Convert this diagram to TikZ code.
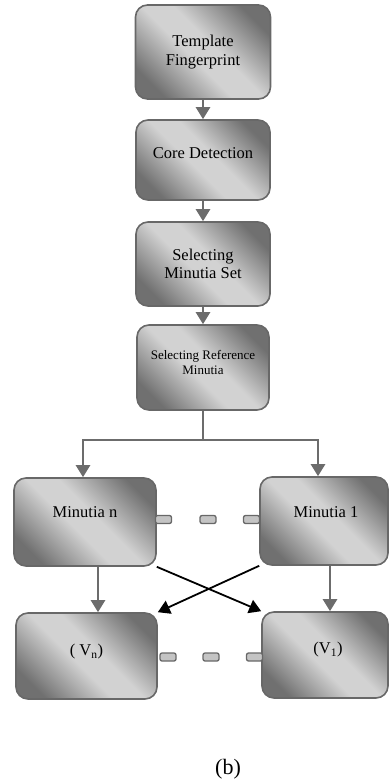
\documentclass[tikz,border=0pt]{standalone}
\usepackage{fontspec}
\setmainfont{Liberation Serif}
\usetikzlibrary{arrows.meta}
\definecolor{edge}{HTML}{686868}
\definecolor{shdark}{HTML}{707070}
\definecolor{shlight}{HTML}{D2D2D2}
\definecolor{arr}{HTML}{6C6C6C}
\definecolor{stubfill}{HTML}{C4C4C4}
\pgfdeclarehorizontalshading{boxshade}{100bp}{color(0bp)=(shdark); color(24bp)=(shdark); color(45bp)=(shlight); color(55bp)=(shlight); color(76bp)=(shdark); color(100bp)=(shdark)}
\tikzset{
  fbox/.style={draw=edge, line width=1.6pt, rounded corners=12pt, shade, shading=boxshade, shading angle=45, inner sep=0pt},
  txt/.style={align=center, font=\fontsize{16.5}{18.5}\selectfont, text=black},
  smalltxt/.style={align=center, font=\fontsize{13}{14.5}\selectfont, text=black},
  stub/.style={draw=edge, line width=1.3pt, fill=stubfill, rounded corners=2pt, minimum width=16pt, minimum height=8pt, inner sep=0pt},
  gline/.style={draw=arr, line width=2.5pt},
  garrow/.style={gline, -{Triangle[width=14pt,length=12pt]}},
  barrow/.style={draw=black, line width=1.8pt, -{Triangle[width=14pt,length=12pt]}}
}
\begin{document}
\begin{tikzpicture}[x=1pt,y=-1pt]
\useasboundingbox (0,0) rectangle (389,784);
% main chain
\node[fbox, minimum width=135pt, minimum height=94pt, label={[txt]center:Template\\Fingerprint}] (b1) at (203,52) {};
\node[fbox, minimum width=134pt, minimum height=80pt, label={[txt, yshift=7pt]center:Core Detection}] (b2) at (203,160) {};
\node[fbox, minimum width=134pt, minimum height=84pt, label={[txt]center:Selecting\\Minutia Set}] (b3) at (203,264) {};
\node[fbox, minimum width=132pt, minimum height=85pt, label={[smalltxt, yshift=5pt]center:Selecting Reference\\Minutia}] (b4) at (203,367.5) {};
% minutia row
\node[fbox, minimum width=142pt, minimum height=88pt, label={[txt, yshift=10pt]center:Minutia n}] (mn) at (85,522) {};
\node[fbox, minimum width=128pt, minimum height=88pt, label={[txt, yshift=9pt, xshift=2pt]center:Minutia 1}] (m1) at (324,521) {};
% V row
\node[fbox, minimum width=141pt, minimum height=86pt, label={[txt, yshift=4pt]center:( V\textsubscript{n})}] (vn) at (86.5,656) {};
\node[fbox, minimum width=126pt, minimum height=86pt, label={[txt, yshift=5pt, xshift=3pt]center:(V\textsubscript{1})}] (v1) at (325,655) {};
% stubs
\node[stub] (s1) at (163.5,519.5) {};
\node[stub] (s2) at (208,519.5) {};
\node[stub] (s3) at (251.5,519.5) {};
\node[stub] (t1) at (168,657) {};
\node[stub] (t2) at (211,657) {};
\node[stub] (t3) at (254.5,657) {};
% arrows
\draw[garrow] (b1) -- (b2);
\draw[garrow] (b2) -- (b3);
\draw[garrow] (b3) -- (b4);
\coordinate (j) at (203,440);
\coordinate (ln) at ([xshift=-2pt]mn.north);
\coordinate (lr) at ([xshift=-6pt]m1.north);
\draw[gline] (b4.south) -- (j);
\draw[garrow] (j) -| (ln);
\draw[garrow] (j) -| (lr);
\coordinate (an) at ([xshift=13pt]mn.south);
\coordinate (ar) at ([xshift=6pt]m1.south);
\draw[garrow] (an) -- (an |- vn.north);
\draw[garrow] (ar) -- (ar |- v1.north);
\draw[barrow] (mn.south east) -- (v1.north west);
\draw[barrow] (m1.south west) -- (vn.north east);
% caption
\node[font=\fontsize{22}{24}\selectfont] (cap) at (228,769) {(b)};
\end{tikzpicture}
\end{document}
